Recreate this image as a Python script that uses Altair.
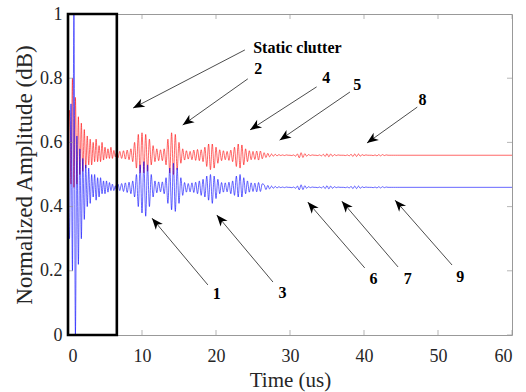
import math
import altair as alt
import pandas as pd

# ---------------- data ----------------
# early part (0 .. 6.4 us, step 0.2 us): extremes of each trace
red_early = [0.56, 0.70, 0.47, 0.80, 0.46, 0.74, 0.47, 0.68, 0.50, 0.66,
             0.51, 0.64, 0.52, 0.62, 0.53, 0.61, 0.53, 0.60, 0.54, 0.61,
             0.54, 0.59, 0.54, 0.60, 0.545, 0.585, 0.55, 0.58, 0.55, 0.585,
             0.55, 0.575, 0.555]
blue_early = [0.46, 0.30, 0.72, 0.20, 1.00, 0.00, 0.62, 0.22, 0.58, 0.30,
              0.55, 0.36, 0.53, 0.40, 0.52, 0.41, 0.50, 0.43, 0.50, 0.42,
              0.49, 0.43, 0.49, 0.44, 0.48, 0.44, 0.48, 0.445, 0.475, 0.45,
              0.47, 0.45, 0.465]
# main part (from 6.5 us, step 0.25 us): extremes of each trace
red_main = [0.565, 0.552, 0.572, 0.55, 0.574, 0.548, 0.576, 0.546, 0.58, 0.54,
            0.60, 0.52, 0.625, 0.505, 0.63, 0.505, 0.625, 0.51, 0.61, 0.53,
            0.59, 0.54, 0.58, 0.543, 0.577, 0.543, 0.58, 0.53, 0.61, 0.505,
            0.63, 0.50, 0.625, 0.515, 0.60, 0.535, 0.58, 0.545, 0.574, 0.548,
            0.572, 0.546, 0.576, 0.544, 0.578, 0.543, 0.577, 0.54, 0.585, 0.525,
            0.595, 0.515, 0.595, 0.52, 0.585, 0.535, 0.577, 0.543, 0.574, 0.546,
            0.572, 0.544, 0.576, 0.54, 0.585, 0.525, 0.595, 0.52, 0.592, 0.53,
            0.58, 0.54, 0.574, 0.546, 0.572, 0.547, 0.573, 0.545, 0.573, 0.549,
            0.568, 0.553, 0.566, 0.555, 0.564, 0.557, 0.563, 0.558, 0.562, 0.559,
            0.561, 0.559, 0.561, 0.56, 0.56, 0.559, 0.561, 0.557, 0.564, 0.552,
            0.568, 0.553, 0.565, 0.557, 0.562, 0.559, 0.561, 0.56, 0.56, 0.559,
            0.561, 0.558, 0.563, 0.556, 0.565, 0.555, 0.564, 0.557, 0.562, 0.559,
            0.561, 0.56, 0.56, 0.56, 0.559, 0.561, 0.558, 0.563, 0.556, 0.564,
            0.556, 0.564, 0.557, 0.562, 0.559, 0.561, 0.56, 0.56, 0.56, 0.559,
            0.561, 0.558, 0.562, 0.558, 0.562, 0.559, 0.561, 0.56, 0.56, 0.56,
            0.56, 0.56, 0.56, 0.56, 0.56]
blue_main = [0.455, 0.47, 0.45, 0.472, 0.447, 0.474, 0.444, 0.476, 0.44, 0.48,
             0.43, 0.50, 0.40, 0.53, 0.38, 0.54, 0.37, 0.53, 0.40, 0.50,
             0.43, 0.48, 0.443, 0.477, 0.446, 0.477, 0.44, 0.49, 0.41, 0.52,
             0.39, 0.535, 0.385, 0.52, 0.41, 0.49, 0.435, 0.475, 0.445, 0.472,
             0.446, 0.474, 0.444, 0.476, 0.44, 0.48, 0.435, 0.485, 0.43, 0.495,
             0.42, 0.50, 0.41, 0.495, 0.425, 0.485, 0.44, 0.475, 0.445, 0.474,
             0.446, 0.476, 0.44, 0.48, 0.435, 0.495, 0.43, 0.50, 0.43, 0.49,
             0.44, 0.48, 0.445, 0.474, 0.447, 0.473, 0.446, 0.475, 0.447, 0.471,
             0.468, 0.453, 0.466, 0.455, 0.464, 0.457, 0.463, 0.458, 0.462, 0.459,
             0.461, 0.459, 0.461, 0.46, 0.46, 0.459, 0.461, 0.457, 0.464, 0.452,
             0.468, 0.453, 0.465, 0.457, 0.462, 0.459, 0.461, 0.46, 0.46, 0.459,
             0.461, 0.458, 0.463, 0.456, 0.465, 0.455, 0.464, 0.457, 0.462, 0.459,
             0.461, 0.46, 0.46, 0.46, 0.459, 0.461, 0.458, 0.463, 0.456, 0.464,
             0.456, 0.464, 0.457, 0.462, 0.459, 0.461, 0.46, 0.46, 0.46, 0.459,
             0.461, 0.458, 0.462, 0.458, 0.462, 0.459, 0.461, 0.46, 0.46, 0.46,
             0.46, 0.46, 0.46, 0.46, 0.46]
end_time = 60
red_end = 0.56
blue_end = 0.46

# annotations
ann_labels = ["Static clutter", "2", "4", "5", "8", "1", "3", "6", "7", "9"]
ann_text_t = [31.0, 25.7, 34.9, 39.1, 47.9, 20.1, 29.0, 41.3, 45.9, 53.0]
ann_text_v = [0.894, 0.829, 0.800, 0.779, 0.733, 0.128, 0.132, 0.174, 0.176, 0.181]
ann_start_t = [23.9, 24.3, 33.6, 38.1, 47.2, 18.9, 27.7, 40.1, 44.6, 51.9]
ann_start_v = [0.888, 0.798, 0.773, 0.757, 0.710, 0.156, 0.165, 0.209, 0.212, 0.218]
ann_tip_t = [8.8, 15.5, 24.6, 28.6, 40.4, 11.35, 20.1, 32.4, 37.0, 44.2]
ann_tip_v = [0.707, 0.654, 0.639, 0.607, 0.598, 0.364, 0.374, 0.414, 0.417, 0.420]

# static-clutter box
box_t = [0, 6.6]
box_v = [0, 1]

x_ticks = [0, 10, 20, 30, 40, 50, 60]
y_ticks = [0, 0.2, 0.4, 0.6, 0.8, 1]

# ---------------- build tables ----------------
W, H = 444, 321
X_MAX = 60


def trace(early, main, end_v):
    t = [round(0.2 * i, 3) for i in range(len(early))]
    t += [round(6.5 + 0.25 * i, 3) for i in range(len(main))]
    t.append(end_time)
    return pd.DataFrame({"t": t, "v": early + main + [end_v]})


red_df = trace(red_early, red_main, red_end)
blue_df = trace(blue_early, blue_main, blue_end)

angles = []
for st, sv, tt, tv in zip(ann_start_t, ann_start_v, ann_tip_t, ann_tip_v):
    dx = (tt - st) * W / X_MAX
    dy_screen = -(tv - sv) * H
    angles.append(math.degrees(math.atan2(dx, -dy_screen)) % 360)

ann_df = pd.DataFrame({
    "label": ann_labels, "tx": ann_text_t, "ty": ann_text_v,
    "sx": ann_start_t, "sy": ann_start_v, "px": ann_tip_t, "py": ann_tip_v,
    "angle": angles,
})
box_df = pd.DataFrame({"x": [box_t[0]], "x2": [box_t[1]], "y": [box_v[0]], "y2": [box_v[1]]})
xt_df = pd.DataFrame({"t": x_ticks * 2, "v": [0] * len(x_ticks) + [1] * len(x_ticks)})
yt_df = pd.DataFrame({"t": [0] * len(y_ticks) + [60] * len(y_ticks), "v": y_ticks * 2})

FONT = "Liberation Serif, Times New Roman, serif"
xscale = alt.Scale(domain=[0, 60], nice=False, zero=False)
yscale = alt.Scale(domain=[0, 1], nice=False, zero=False)

X = alt.X("t:Q", scale=xscale,
          axis=alt.Axis(values=x_ticks, title="Time (us)", format="~g"))
Y = alt.Y("v:Q", scale=yscale,
          axis=alt.Axis(values=y_ticks, title="Normalized Amplitude (dB)", format="~g",
                        titleFontSize=23))

red_line = alt.Chart(red_df).mark_line(
    color="#ff0000", strokeWidth=0.8, opacity=0.75, interpolate="monotone", clip=True
).encode(x=X, y=Y, order="t:Q")

blue_line = alt.Chart(blue_df).mark_line(
    color="#0000ff", strokeWidth=0.8, opacity=0.75, interpolate="monotone", clip=True
).encode(x=alt.X("t:Q", scale=xscale), y=alt.Y("v:Q", scale=yscale), order="t:Q")

xticks_m = alt.Chart(xt_df).mark_tick(
    orient="vertical", size=10, thickness=1, color="#999999", clip=True
).encode(x=alt.X("t:Q", scale=xscale), y=alt.Y("v:Q", scale=yscale))
yticks_m = alt.Chart(yt_df).mark_tick(
    orient="horizontal", size=10, thickness=1, color="#999999", clip=True
).encode(x=alt.X("t:Q", scale=xscale), y=alt.Y("v:Q", scale=yscale))

box = alt.Chart(box_df).mark_rect(
    fillOpacity=0, stroke="black", strokeWidth=2.6
).encode(x=alt.X("x:Q", scale=xscale), x2="x2:Q",
         y=alt.Y("y:Q", scale=yscale), y2="y2:Q")

arrows = alt.Chart(ann_df).mark_rule(color="#4d4d4d", strokeWidth=1).encode(
    x=alt.X("sx:Q", scale=xscale), y=alt.Y("sy:Q", scale=yscale),
    x2="px:Q", y2="py:Q")

heads = alt.Chart(ann_df).mark_point(
    shape="M0,0L0.4,1L0,0.72L-0.4,1Z", filled=True, size=520,
    color="black", opacity=1, strokeWidth=0
).encode(x=alt.X("px:Q", scale=xscale), y=alt.Y("py:Q", scale=yscale),
         angle=alt.Angle("angle:Q", scale=None))

texts = alt.Chart(ann_df).mark_text(
    font=FONT, fontSize=16, fontWeight="bold", color="black",
    align="center", baseline="middle"
).encode(x=alt.X("tx:Q", scale=xscale), y=alt.Y("ty:Q", scale=yscale), text="label:N")

chart = alt.layer(
    red_line, blue_line, xticks_m, yticks_m, box, arrows, heads, texts
).properties(
    width=W, height=H, autosize="none",
    padding={"left": 68, "top": 14, "right": 14, "bottom": 57},
).configure_view(
    stroke="#999999", strokeWidth=1
).configure_axis(
    domain=False, ticks=False, grid=False,
    labelFont=FONT, labelFontSize=18, labelColor="#262626",
    titleFont=FONT, titleFontSize=21, titleFontWeight="normal", titleColor="#262626",
).configure_axisX(
    labelPadding=12, titlePadding=4
).configure_axisY(
    labelPadding=6, titlePadding=3
)

chart.save("out.html", embed_options={"renderer": "svg", "actions": False})
